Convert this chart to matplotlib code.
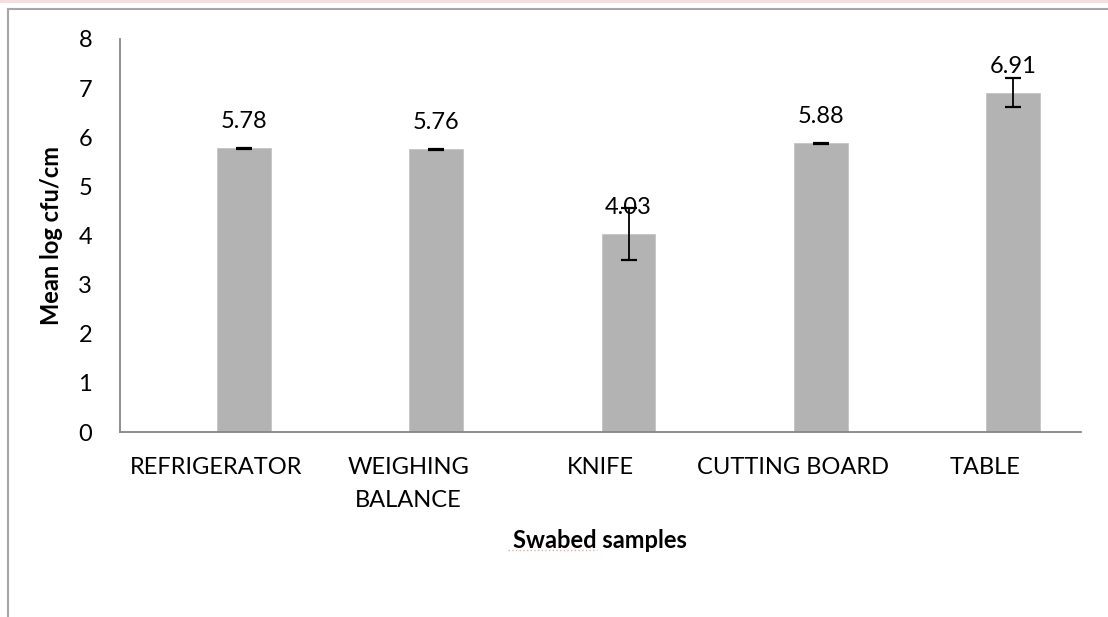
import numpy as np
import matplotlib
matplotlib.use("Agg")
import matplotlib.pyplot as plt
from matplotlib.lines import Line2D

# data
categories = ["REFRIGERATOR", "WEIGHING\nBALANCE", "KNIFE", "CUTTING BOARD", "TABLE"]
means = [5.78, 5.76, 4.03, 5.88, 6.91]
errors = [0.01, 0.01, 0.53, 0.01, 0.30]
value_labels = ["5.78", "5.76", "4.03", "5.88", "6.91"]
yticks = [0, 1, 2, 3, 4, 5, 6, 7, 8]

plt.rcParams['font.family'] = ['Lato', 'DejaVu Sans']
FS = 17

fig = plt.figure(figsize=(11.08, 6.17), dpi=100)
ax = fig.add_axes([0.1083, 0.2998, 0.8673, 0.637])

x = np.arange(len(categories))
bar_x = x + 0.146  # bars sit right of the category centre, like Excel's cluster

ax.bar(bar_x, means, width=0.28, color='#b3b3b3', edgecolor='#c4c4c4', linewidth=0.6, zorder=2)
ax.errorbar(bar_x, means, yerr=errors, fmt='none', ecolor='black',
            elinewidth=1.3, capsize=6, capthick=1.6, zorder=3)

for bx, m, lab in zip(bar_x, means, value_labels):
    ax.annotate(lab, (bx, m), xytext=(0, 19), textcoords='offset points',
                ha='center', va='center', fontsize=FS, color='black', zorder=4)

ax.set_xlim(-0.5, len(categories) - 0.5)
ax.set_ylim(0, 8)
ax.set_yticks(yticks)
ax.set_yticklabels([str(t) for t in yticks])
ax.set_xticks(x)
ax.set_xticklabels(categories, linespacing=1.7)

ax.tick_params(axis='both', length=0, labelsize=FS, colors='black')
ax.tick_params(axis='y', pad=20)
ax.tick_params(axis='x', pad=18)

for side in ['top', 'right']:
    ax.spines[side].set_visible(False)
for side in ['left', 'bottom']:
    ax.spines[side].set_color('#868686')
    ax.spines[side].set_linewidth(1.3)

ax.set_ylabel("Mean log cfu/cm", fontsize=FS, fontweight='bold', labelpad=11)
fig.text(600 / 1108, 1 - 540 / 617, "Swabed samples", fontsize=FS, fontweight='bold',
         ha='center', va='center')

# spell-check underline under "Swabed"
fig.add_artist(Line2D([508 / 1108, 597 / 1108], [1 - 550 / 617] * 2, color='#f2a6a6',
                      linewidth=1, linestyle=':', transform=fig.transFigure))

# outer chart frame (cut off at right and bottom) and pink line at the very top
fig.add_artist(Line2D([8 / 1108, 8 / 1108], [0, 1 - 9 / 617], color='#a6a6a6',
                      linewidth=1.5, transform=fig.transFigure))
fig.add_artist(Line2D([8 / 1108, 1], [1 - 9 / 617] * 2, color='#a6a6a6',
                      linewidth=1.5, transform=fig.transFigure))
fig.add_artist(Line2D([0, 1], [1 - 1 / 617] * 2, color='#f6dcdc',
                      linewidth=2, transform=fig.transFigure))

fig.savefig("out.png", dpi=100)
